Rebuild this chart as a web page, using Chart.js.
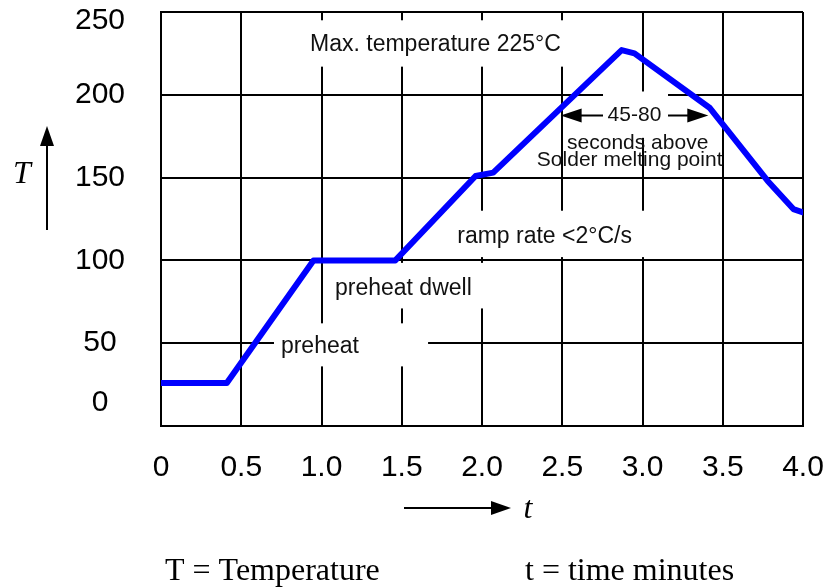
<!DOCTYPE html>
<html>
<head>
<meta charset="utf-8">
<script src="https://cdn.jsdelivr.net/npm/chart.js@4"></script>
<style>
  html, body { margin: 0; padding: 0; background: #fff; }
  #wrap { width: 823px; height: 587px; }
</style>
</head>
<body>
<div id="wrap"><canvas id="c" width="823" height="587"></canvas></div>
<script>
// ---- data ----
const times = [0, 0.41, 0.95, 1.46, 1.96, 2.07, 2.87, 2.95, 3.42, 3.78, 3.94, 4.0];
const temps = [26, 26, 100, 100, 151, 153, 227, 225, 192, 148, 131, 129];
const xTickLabels = ['0', '0.5', '1.0', '1.5', '2.0', '2.5', '3.0', '3.5', '4.0'];
const yTickLabels = ['0', '50', '100', '150', '200', '250'];

// annotation texts: [text, t, T, fontSize]
const notes = [
  ['Max. temperature 225°C', 1.71, 230, 23],
  ['45-80', 2.95, 187.5, 21],
  ['seconds above', 2.97, 170.5, 21],
  ['Solder melting point', 2.92, 160.3, 21],
  ['ramp rate <2°C/s', 2.39, 114.4, 23],
  ['preheat dwell', 1.51, 83, 23],
  ['preheat', 0.99, 47.8, 23]
];
// white label boxes that interrupt the grid: [t1, t2, T1, T2]
const masks = [
  [0.87, 2.56, 217, 245],
  [2.754, 3.159, 174, 202],
  [1.77, 3.1, 102, 130],
  [1.03, 2.05, 71, 98.5],
  [0.704, 1.664, 36, 62]
];
// span arrows ("45-80"): [fromT, toT, atT]
const spanArrows = [
  [2.754, 2.49, 187.5],
  [3.159, 3.41, 187.5]
];

const points = times.map((t, i) => ({ x: t, y: temps[i] }));

function arrowHead(ctx, x1, y1, x2, y2, len, half) {
  const a = Math.atan2(y2 - y1, x2 - x1);
  ctx.beginPath();
  ctx.moveTo(x2, y2);
  ctx.lineTo(x2 - len * Math.cos(a) + half * Math.sin(a), y2 - len * Math.sin(a) - half * Math.cos(a));
  ctx.lineTo(x2 - len * Math.cos(a) - half * Math.sin(a), y2 - len * Math.sin(a) + half * Math.cos(a));
  ctx.closePath();
  ctx.fill();
}
function arrow(ctx, x1, y1, x2, y2, len, half, lw) {
  const a = Math.atan2(y2 - y1, x2 - x1);
  ctx.lineWidth = lw;
  ctx.beginPath();
  ctx.moveTo(x1, y1);
  ctx.lineTo(x2 - (len - 1) * Math.cos(a), y2 - (len - 1) * Math.sin(a));
  ctx.stroke();
  arrowHead(ctx, x1, y1, x2, y2, len, half);
}

const annoPlugin = {
  id: 'anno',
  beforeDatasetsDraw(chart) {
    const { ctx, scales: { x, y } } = chart;
    ctx.save();
    ctx.fillStyle = '#ffffff';
    masks.forEach(m => {
      const x1 = x.getPixelForValue(m[0]), x2 = x.getPixelForValue(m[1]);
      const y1 = y.getPixelForValue(m[3]), y2 = y.getPixelForValue(m[2]);
      ctx.fillRect(x1, y1, x2 - x1, y2 - y1);
    });
    ctx.fillStyle = '#111';
    ctx.strokeStyle = '#000';
    ctx.textAlign = 'center';
    ctx.textBaseline = 'middle';
    notes.forEach(n => {
      ctx.font = n[3] + 'px "Liberation Sans", Arial, sans-serif';
      ctx.fillText(n[0], x.getPixelForValue(n[1]), y.getPixelForValue(n[2]));
    });
    ctx.fillStyle = '#000';
    spanArrows.forEach(s => {
      const yy = y.getPixelForValue(s[2]);
      arrow(ctx, x.getPixelForValue(s[0]), yy, x.getPixelForValue(s[1]), yy, 21, 7, 2);
    });
    ctx.restore();
  },
  afterDraw(chart) {
    const { ctx } = chart;
    ctx.save();
    ctx.fillStyle = '#000';
    ctx.strokeStyle = '#000';
    // y axis name + arrow
    arrow(ctx, 47, 230, 47, 126, 20, 7, 2);
    ctx.font = 'italic 32px "Liberation Serif", "Times New Roman", serif';
    ctx.textAlign = 'center';
    ctx.textBaseline = 'alphabetic';
    ctx.fillText('T', 22, 183);
    // x axis name + arrow
    arrow(ctx, 404, 508, 511, 508, 20, 7, 2);
    ctx.fillText('t', 528, 518);
    // captions
    ctx.font = '32px "Liberation Serif", "Times New Roman", serif';
    ctx.textAlign = 'left';
    ctx.fillText('T = Temperature', 165, 580);
    ctx.fillText('t = time minutes', 525, 580);
    ctx.restore();
  }
};

new Chart(document.getElementById('c'), {
  type: 'line',
  data: {
    datasets: [{
      data: points,
      borderColor: '#0000ff',
      borderWidth: 6,
      pointRadius: 0,
      tension: 0,
      borderJoinStyle: 'round',
      borderCapStyle: 'round',
      fill: false
    }]
  },
  options: {
    responsive: false,
    animation: false,
    devicePixelRatio: 1,
    layout: { padding: { top: 12, right: 20, left: 0, bottom: 0 } },
    plugins: { legend: { display: false }, tooltip: { enabled: false } },
    scales: {
      x: {
        type: 'linear',
        min: 0, max: 4,
        afterFit(s) { s.height = 587 - 12 - 414; s.paddingLeft = 0; s.paddingRight = 0; },
        grid: { color: '#000', lineWidth: 2, drawTicks: false },
        border: { display: true, color: '#000', width: 2 },
        ticks: {
          stepSize: 0.5,
          padding: 24,
          color: '#000',
          maxRotation: 0,
          autoSkip: false,
          font: { family: '"Liberation Sans", Arial, sans-serif', size: 30 },
          callback: (v, i) => xTickLabels[i]
        }
      },
      y: {
        min: 0, max: 250,
        afterFit(s) { s.width = 161; s.paddingTop = 0; s.paddingBottom = 0; },
        grid: { color: '#000', lineWidth: 2, drawTicks: false },
        border: { display: true, color: '#000', width: 2 },
        ticks: {
          stepSize: 50,
          padding: 36,
          autoSkip: false,
          crossAlign: 'center',
          color: '#000',
          font: ctx => {
            const v = ctx.tick ? ctx.tick.value : null;
            let lh = 1.2;
            if (v === 0) lh = 1.55;
            if (v === 250) lh = 0.57;
            return { family: '"Liberation Sans", Arial, sans-serif', size: 30, lineHeight: lh };
          },
          callback: (v, i) => {
            const lbl = yTickLabels[i];
            if (v === 0) return [lbl, ''];
            if (v === 250) return ['', lbl];
            return lbl;
          }
        }
      }
    }
  },
  plugins: [annoPlugin]
});
</script>
</body>
</html>
